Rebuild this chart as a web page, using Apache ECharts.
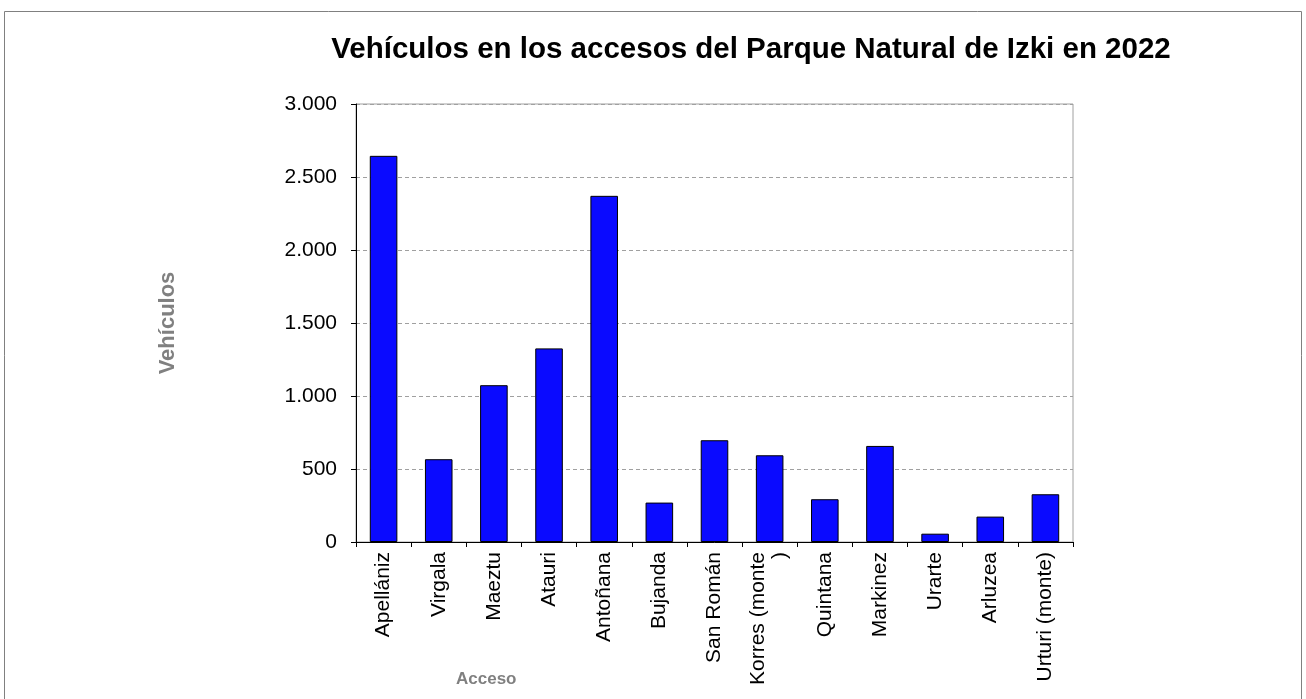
<!DOCTYPE html>
<html>
<head>
<meta charset="utf-8">
<script src="https://cdn.jsdelivr.net/npm/echarts@6/dist/echarts.min.js"></script>
<style>
  html, body { margin: 0; padding: 0; background: #fff; }
  #chart { width: 1306px; height: 699px; }
</style>
</head>
<body>
<div id="chart"></div>
<script>
const accesos = ['Apellániz', 'Virgala', 'Maeztu', 'Atauri', 'Antoñana', 'Bujanda', 'San Román',
  'Korres (monte\n)', 'Quintana', 'Markinez', 'Urarte', 'Arluzea', 'Urturi (monte)'];
const vehiculos = [2645, 567, 1074, 1326, 2371, 270, 697, 594, 293, 658, 57, 174, 327];
const yTicks = { min: 0, max: 3000, interval: 500 };

const chart = echarts.init(document.getElementById('chart'));
const fontFamily = 'Liberation Sans, Arial, sans-serif';

chart.setOption({
  animation: false,
  title: {
    text: 'Vehículos en los accesos del Parque Natural de Izki en 2022',
    left: 746,
    textAlign: 'center',
    top: 30,
    textStyle: { fontFamily, fontSize: 29.5, fontWeight: 'bold', color: '#000' }
  },
  graphic: [
    {
      type: 'rect',
      shape: { x: 4.5, y: 11.5, width: 1297, height: 700 },
      style: { fill: 'none', stroke: '#808080', lineWidth: 1 },
      silent: true
    },
    {
      type: 'text',
      left: 456,
      top: 671,
      style: { text: 'Acceso', fontFamily, fontSize: 17, fontWeight: 'bold', fill: '#808080' }
    }
  ],
  grid: {
    left: 356, right: 233, top: 104, bottom: 157,
    show: true, borderColor: '#a0a0a0', borderWidth: 1
  },
  xAxis: {
    type: 'category',
    data: accesos,
    axisLine: { lineStyle: { color: '#000', width: 1 } },
    axisTick: { show: true, length: 5, alignWithLabel: false, lineStyle: { color: '#000' } },
    axisLabel: {
      rotate: 90, interval: 0, margin: 10, color: '#000',
      fontFamily, fontSize: 21, lineHeight: 22
    }
  },
  yAxis: {
    type: 'value',
    min: yTicks.min, max: yTicks.max, interval: yTicks.interval,
    name: 'Vehículos',
    nameLocation: 'middle',
    nameGap: 177,
    nameTextStyle: { fontFamily, fontSize: 22, fontWeight: 'bold', color: '#808080' },
    axisLine: { show: true, lineStyle: { color: '#000', width: 1 } },
    axisTick: { show: true, length: 5, lineStyle: { color: '#000' } },
    axisLabel: {
      color: '#000', fontFamily, fontSize: 21, margin: 19,
      formatter: v => v.toLocaleString('de-DE')
    },
    splitLine: { show: true, lineStyle: { color: '#a0a0a0', type: [4, 3], width: 1 } }
  },
  series: [{
    type: 'bar',
    data: vehiculos,
    barWidth: '50%',
    itemStyle: { color: '#0a0aff', borderColor: '#000', borderWidth: 1 }
  }]
});
</script>
</body>
</html>
